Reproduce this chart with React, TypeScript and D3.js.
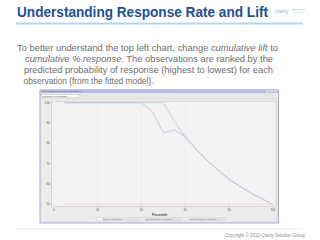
import React from "react";
import * as d3 from "d3";

const percentiles = [5, 10, 15, 20, 25, 30, 35, 40, 45, 50, 55, 60, 65, 70, 75, 80, 85, 90, 95, 100];
const bestResponse = [100, 100, 100, 100, 100, 100, 100, 100, 100, 100, 90.8, 83.3, 77, 71.5, 66.8, 62.3, 58.8, 55.5, 52.7, 50];
const modelResponse = [100, 100, 100, 100, 100, 100, 100, 100, 95.5, 85.3, 86.6, 83.3, 77, 71.5, 66.8, 62.3, 58.8, 55.5, 52.7, 50];
const baselineResponse = 50;
const xTicks = [0, 20, 40, 60, 80, 100];
const yTicks = [50, 60, 70, 80, 90, 100];
const legendItems = ["Baseline % Response", "Best Cumulative % Response", "Model Cumulative % Response"];

const bodyLines = [
  [{ t: "To better understand the top left chart, change ", i: false }, { t: "cumulative lift", i: true }, { t: " to", i: false }],
  [{ t: "cumulative % response", i: true }, { t: ". The observations are ranked by the", i: false }],
  [{ t: "predicted probability of response (highest to lowest) for each", i: false }],
  [{ t: "observation (from the fitted model).", i: false }],
];
const bodyX = [17, 25, 24, 23.5];
const bodyW = [261, 248, 249, 130];

export default function App() {
  const x = d3.scaleLinear().domain([0, 100]).range([53.7, 273]);
  const y = d3.scaleLinear().domain([50, 100]).range([204.3, 102.7]);
  const line = d3
    .line<number>()
    .x((_, i) => x(percentiles[i]))
    .y((d) => y(d));

  const font = "'Liberation Sans', Arial, sans-serif";

  return (
    <div style={{ position: "fixed", left: 0, top: 0 }}>
      <svg width={320} height={240} style={{ display: "block", background: "#fff" }} fontFamily={font}>
        {/* Title */}
        <text x={17} y={16.7} fontSize={14} fontWeight="bold" fill="#1d4f96" textLength={251} lengthAdjust="spacingAndGlyphs">
          Understanding Response Rate and Lift
        </text>
        {/* logo */}
        <text x={275} y={12.5} fontSize={5.2} fill="#8196b8" opacity={0.8}>clarity</text>
        <rect x={292} y={9} width={13} height={1.5} fill="#d6e2ee" />
        <rect x={292} y={12} width={11} height={1} fill="#e2eaf2" />
        <rect x={16} y={22.5} width={287} height={2} fill="#b5d5ef" />

        {/* Body text */}
        {bodyLines.map((ln, k) => (
          <text key={k} x={bodyX[k]} y={51 + k * 11.1} fontSize={9} fill="#6e6e6e" textLength={bodyW[k]} lengthAdjust="spacingAndGlyphs">
            {ln.map((s, j) => (
              <tspan key={j} fontStyle={s.i ? "italic" : "normal"}>{s.t}</tspan>
            ))}
          </text>
        ))}

        {/* Window */}
        <rect x={40} y={90} width={238.5} height={133} fill="#e6e6e6" stroke="#a9a9d6" strokeWidth={1} />
        <rect x={40} y={89.5} width={238.5} height={3.5} fill="#b8b8e6" />
        <text x={42} y={92.4} fontSize={2.4} fill="#555">Score Rankings Overlay: Cumulative</text>
        <rect x={266} y={90.2} width={3} height={2.2} fill="#d8d8f0" />
        <rect x={270} y={90.2} width={3} height={2.2} fill="#d8d8f0" />
        <rect x={274} y={90.2} width={3} height={2.2} fill="#d8d8f0" />
        <rect x={41} y={94.3} width={38} height={3.3} fill="#fafafa" stroke="#b9b9b9" strokeWidth={0.4} />
        <text x={42} y={96.8} fontSize={2.3} fill="#555">Cumulative % Response</text>
        <rect x={41} y={99} width={236} height={123} fill="#ececec" stroke="#cfcfcf" strokeWidth={0.4} />

        {/* Plot area */}
        <rect x={51.7} y={101.5} width={224.3} height={105.2} fill="#f3f3f3" stroke="#c4c4c4" strokeWidth={0.5} />
        {xTicks.map((t) => (
          <line key={t} x1={x(t)} x2={x(t)} y1={101.7} y2={206.7} stroke="#e6e6e6" strokeWidth={0.5} />
        ))}
        {/* baseline */}
        <line x1={x(5)} x2={x(100)} y1={y(baselineResponse)} y2={y(baselineResponse)} stroke="#f2c8d0" strokeWidth={0.7} />
        <path d={line(bestResponse) || ""} fill="none" stroke="#b3cdc9" strokeWidth={0.75} />
        <path d={line(modelResponse) || ""} fill="none" stroke="#b8bbe6" strokeWidth={0.75} />

        {/* Y axis */}
        {yTicks.map((t) => (
          <g key={t}>
            <line x1={50.5} x2={51.7} y1={y(t)} y2={y(t)} stroke="#999" strokeWidth={0.4} />
            <text x={49.5} y={y(t) + 1} fontSize={2.8} fill="#555" textAnchor="end">{t}</text>
          </g>
        ))}
        {/* X axis */}
        {xTicks.map((t) => (
          <g key={t}>
            <line x1={x(t)} x2={x(t)} y1={206.7} y2={207.9} stroke="#999" strokeWidth={0.4} />
            <text x={x(t)} y={210.8} fontSize={2.8} fill="#555" textAnchor="middle">{t}</text>
          </g>
        ))}
        <text x={159.7} y={215.6} fontSize={3.2} fontWeight="bold" fill="#444" textAnchor="middle">Percentile</text>

        {/* Legend */}
        <rect x={96} y={217.8} width={129} height={3} fill="#e2e2e2" stroke="#c8c8c8" strokeWidth={0.3} />
        {legendItems.map((s, i) => (
          <g key={s}>
            <rect x={96.5 + i * 43} y={218.2} width={6} height={2.2} fill={i === 0 ? "#fafafa" : "#eeeeee"} />
            <text x={103 + i * 43} y={220.2} fontSize={2} fill="#777">{s}</text>
          </g>
        ))}

        {/* footer */}
        <rect x={16} y={228.5} width={287} height={1.2} fill="#e1edf8" />
        <text x={305} y={236.5} fontSize={5} fill="#8a8a8a" textAnchor="end" textLength={80} lengthAdjust="spacingAndGlyphs">
          Copyright © 2012 Clarity Solution Group
        </text>
      </svg>
    </div>
  );
}
